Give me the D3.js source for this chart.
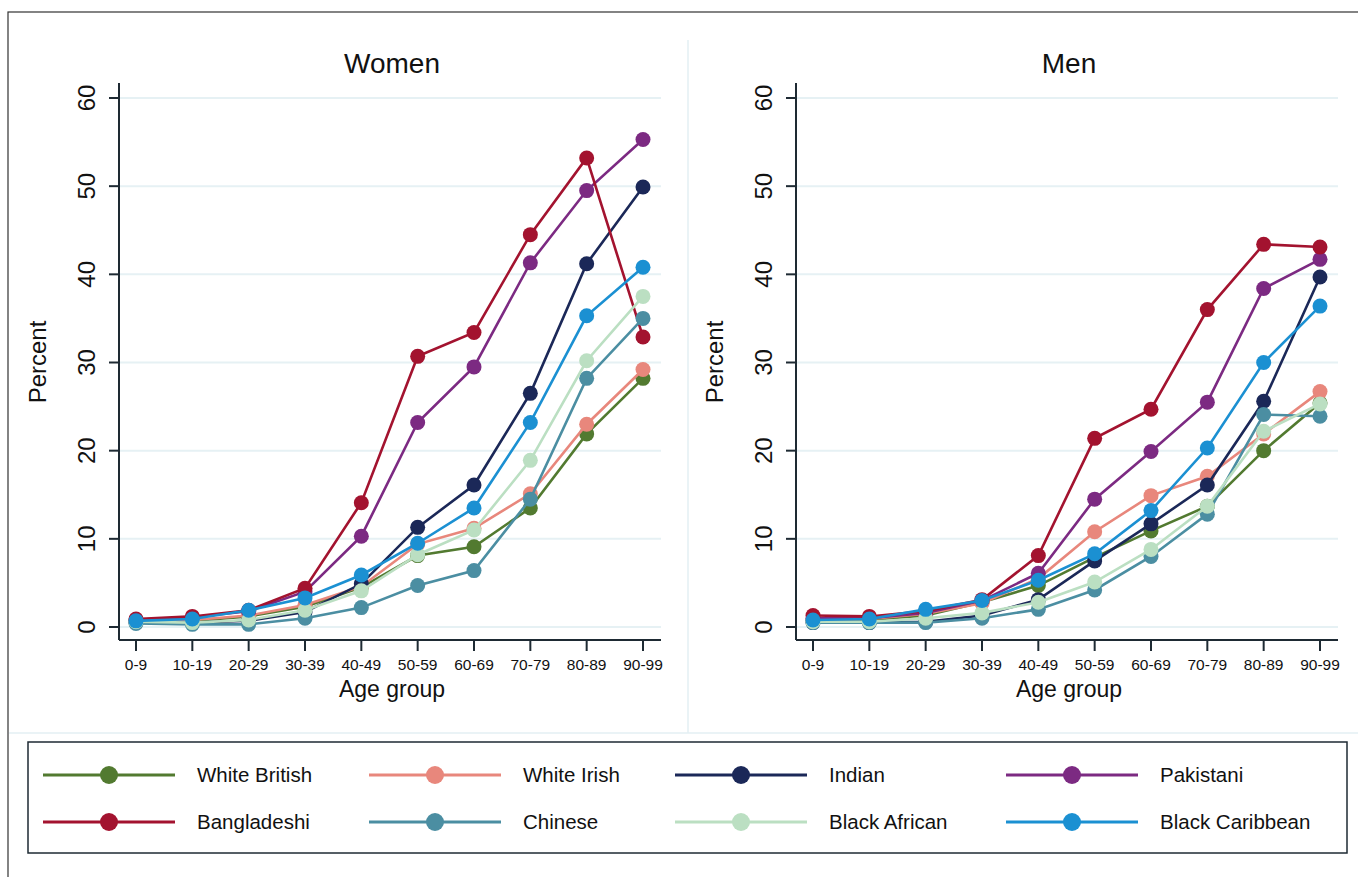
<!DOCTYPE html>
<html>
<head>
<meta charset="utf-8">
<script src="https://cdn.jsdelivr.net/npm/d3@7"></script>
<style>
	body { margin: 0; background: #fff; }
	text { font-family: "Liberation Sans", Arial, sans-serif; fill: #111; }
</style>
</head>
<body>
<div id="wrapper"></div>
<script>
// age groups on the x axis
const ageGroups = ["0-9","10-19","20-29","30-39","40-49","50-59","60-69","70-79","80-89","90-99"];
const yTicks = [0, 10, 20, 30, 40, 50, 60];

const groups = ["White British","White Irish","Indian","Pakistani","Bangladeshi","Chinese","Black African","Black Caribbean"];
const groupColours = ["#527a30","#e8877c","#1b2858","#7c2a82","#a3132f","#4b8ea2","#bbdfc2","#1b90d2"];

// percent, women
const womenWhiteBritish   = [0.6, 0.7, 1.2, 2.3, 4.5, 8.1, 9.1, 13.5, 21.9, 28.2];
const womenWhiteIrish     = [0.7, 0.8, 1.3, 2.5, 4.6, 9.4, 11.2, 15.1, 23.0, 29.2];
const womenIndian         = [0.5, 0.5, 0.7, 1.7, 4.9, 11.3, 16.1, 26.5, 41.2, 49.9];
const womenPakistani      = [0.8, 1.1, 1.8, 4.0, 10.3, 23.2, 29.5, 41.3, 49.5, 55.3];
const womenBangladeshi    = [0.9, 1.2, 1.9, 4.4, 14.1, 30.7, 33.4, 44.5, 53.2, 32.9];
const womenChinese        = [0.4, 0.3, 0.3, 1.0, 2.2, 4.7, 6.4, 14.5, 28.2, 35.0];
const womenBlackAfrican   = [0.6, 0.5, 0.8, 1.9, 4.1, 8.2, 11.0, 18.9, 30.2, 37.5];
const womenBlackCaribbean = [0.7, 0.9, 1.9, 3.3, 5.9, 9.5, 13.5, 23.2, 35.3, 40.8];

// percent, men
const menWhiteBritish   = [0.7, 0.8, 1.3, 2.8, 4.7, 7.9, 10.9, 13.7, 20.0, 25.4];
const menWhiteIrish     = [0.8, 0.9, 1.5, 2.7, 5.5, 10.8, 14.9, 17.1, 21.9, 26.7];
const menIndian         = [0.5, 0.5, 0.6, 1.3, 3.1, 7.5, 11.7, 16.1, 25.6, 39.7];
const menPakistani      = [1.0, 1.0, 1.6, 3.0, 6.1, 14.5, 19.9, 25.5, 38.4, 41.7];
const menBangladeshi    = [1.3, 1.2, 1.8, 3.1, 8.1, 21.4, 24.7, 36.0, 43.4, 43.1];
const menChinese        = [0.5, 0.5, 0.5, 1.0, 2.0, 4.2, 8.0, 12.8, 24.1, 23.9];
const menBlackAfrican   = [0.6, 0.6, 1.0, 1.6, 2.8, 5.1, 8.8, 13.7, 22.2, 25.3];
const menBlackCaribbean = [0.8, 0.9, 2.0, 3.0, 5.3, 8.3, 13.2, 20.3, 30.0, 36.4];

const womenSeries = [womenWhiteBritish, womenWhiteIrish, womenIndian, womenPakistani, womenBangladeshi, womenChinese, womenBlackAfrican, womenBlackCaribbean];
const menSeries = [menWhiteBritish, menWhiteIrish, menIndian, menPakistani, menBangladeshi, menChinese, menBlackAfrican, menBlackCaribbean];

const width = 1358, height = 877;
const svg = d3.select("#wrapper").append("svg")
	.attr("width", width)
	.attr("height", height);

// outer frame and panel dividers
svg.append("rect").attr("x", 8).attr("y", 12).attr("width", 1400).attr("height", 900)
	.attr("fill", "none").attr("stroke", "#333").attr("stroke-width", 1.2);
svg.append("line").attr("x1", 688).attr("x2", 688).attr("y1", 40).attr("y2", 733)
	.attr("stroke", "#e3eff3").attr("stroke-width", 1.5);
svg.append("line").attr("x1", 9).attr("x2", 1358).attr("y1", 733).attr("y2", 733)
	.attr("stroke", "#e3eff3").attr("stroke-width", 1.5);

const colour = d3.scaleOrdinal().domain(groups).range(groupColours);

const yScale = d3.scaleLinear().domain([0, 60]).range([627, 98]);

function drawPanel(title, series, offset) {
	const g = svg.append("g").attr("transform", `translate(${offset},0)`);
	const axisX = 119;
	const axisY = 640;
	const xScale = d3.scalePoint().domain(ageGroups).range([136, 643]);

	// gridlines
	g.selectAll(".grid").data(yTicks).enter().append("line")
		.attr("x1", axisX).attr("x2", 661)
		.attr("y1", d => yScale(d)).attr("y2", d => yScale(d))
		.attr("stroke", "#e6f1f4").attr("stroke-width", 2);

	// y axis
	g.append("line").attr("x1", axisX).attr("x2", axisX)
		.attr("y1", 83).attr("y2", axisY)
		.attr("stroke", "#1e2a33").attr("stroke-width", 2);
	g.selectAll(".ytick").data(yTicks).enter().append("line")
		.attr("x1", axisX - 10).attr("x2", axisX)
		.attr("y1", d => yScale(d)).attr("y2", d => yScale(d))
		.attr("stroke", "#1e2a33").attr("stroke-width", 2);
	g.selectAll(".ylab").data(yTicks).enter().append("text")
		.attr("transform", d => `translate(${axisX - 33},${yScale(d)}) rotate(-90)`)
		.attr("text-anchor", "middle").attr("dy", "0.36em")
		.style("font-size", "24px")
		.text(d => d);

	// x axis
	g.append("line").attr("x1", axisX).attr("x2", 661)
		.attr("y1", axisY).attr("y2", axisY)
		.attr("stroke", "#1e2a33").attr("stroke-width", 2);
	g.selectAll(".xtick").data(ageGroups).enter().append("line")
		.attr("x1", d => xScale(d)).attr("x2", d => xScale(d))
		.attr("y1", axisY).attr("y2", axisY + 11)
		.attr("stroke", "#1e2a33").attr("stroke-width", 2);
	g.selectAll(".xlab").data(ageGroups).enter().append("text")
		.attr("x", d => xScale(d)).attr("y", 670)
		.attr("text-anchor", "middle")
		.style("font-size", "15.5px")
		.text(d => d);

	// titles
	g.append("text").attr("x", 392).attr("y", 73).attr("text-anchor", "middle")
		.style("font-size", "28px").text(title);
	g.append("text").attr("x", 392).attr("y", 697).attr("text-anchor", "middle")
		.style("font-size", "23px").text("Age group");
	g.append("text").attr("transform", `translate(46,362) rotate(-90)`)
		.attr("text-anchor", "middle")
		.style("font-size", "24px").text("Percent");

	const line = d3.line()
		.x((d, i) => xScale(ageGroups[i]))
		.y(d => yScale(d));

	series.forEach(function(values, k) {
		const c = colour(groups[k]);
		g.append("path").datum(values)
			.attr("d", line)
			.attr("fill", "none")
			.attr("stroke", c)
			.attr("stroke-width", 2.6);
		g.selectAll(".pt" + k).data(values).enter().append("circle")
			.attr("cx", (d, i) => xScale(ageGroups[i]))
			.attr("cy", d => yScale(d))
			.attr("r", 7.5)
			.attr("fill", c);
	});
}

drawPanel("Women", womenSeries, 0);
drawPanel("Men", menSeries, 677);

// legend
const legend = svg.append("g");
legend.append("rect").attr("x", 28).attr("y", 742).attr("width", 1319).attr("height", 111)
	.attr("fill", "none").attr("stroke", "#1e2a33").attr("stroke-width", 1.5);
const colStarts = [43, 369, 675, 1006];
const rowYs = [775, 822];
groups.forEach(function(name, k) {
	const x0 = colStarts[k % 4];
	const y0 = rowYs[Math.floor(k / 4)];
	const c = colour(name);
	legend.append("line").attr("x1", x0).attr("x2", x0 + 132)
		.attr("y1", y0).attr("y2", y0)
		.attr("stroke", c).attr("stroke-width", 3);
	legend.append("circle").attr("cx", x0 + 66).attr("cy", y0).attr("r", 9).attr("fill", c);
	legend.append("text").attr("x", x0 + 154).attr("y", y0).attr("dy", "0.36em")
		.style("font-size", "20.5px").text(name);
});
</script>
</body>
</html>
